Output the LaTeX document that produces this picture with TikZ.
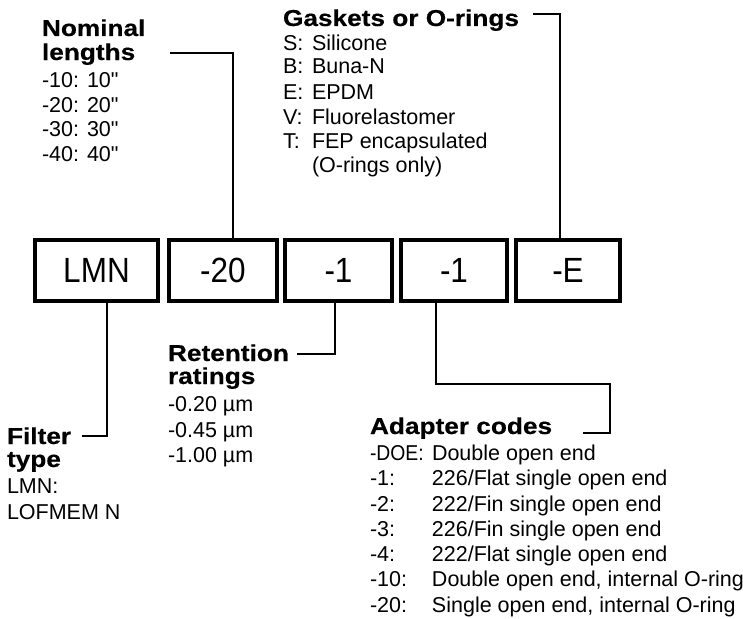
\documentclass[tikz,border=0pt]{standalone}
\usepackage{graphicx}
\usepackage{fontspec}
\setmainfont{Liberation Sans}
\newfontfamily\bdfont{Liberation Sans}
\newfontfamily\hdfont{Liberation Sans}[FakeStretch=1.14,FakeBold=0.4]
\newfontfamily\bxfont{Liberation Sans}[FakeStretch=0.9]
\begin{document}
\begin{tikzpicture}[x=1pt,y=-1pt,
  box/.style={draw=black,line width=4pt,inner sep=0pt,outer sep=0pt,minimum height=61pt,
    font=\bxfont\fontsize{35}{35}\selectfont},
  conn/.style={draw=black,line width=2pt},
  head/.style={anchor=base west,inner sep=0pt,outer sep=0pt,font=\hdfont\bfseries\fontsize{23}{23}\selectfont},
  body/.style={anchor=base west,inner sep=0pt,outer sep=0pt,font=\bdfont\fontsize{21.5}{25}\selectfont}]
\useasboundingbox (0,0) rectangle (743,618);
% boxes
\node[box,minimum width=123pt] (b1) at (96.5,270.5) {LMN};
\node[box,minimum width=108pt] (b2) at (223,270.5) {-20};
\node[box,minimum width=107pt] (b3) at (338.5,270.5) {-1};
\node[box,minimum width=106pt] (b4) at (454,270.5) {-1};
\node[box,minimum width=104pt] (b5) at (568,270.5) {-E};
% Nominal lengths
\node[head] (nh1) at (42,36) {Nominal};
\node[head] (nh2) at (42,60) {lengths};
\node[body] (n1) at (42,87) {-10: 10"};
\node[body] (n2) at (42,112) {-20: 20"};
\node[body] (n3) at (42,136) {-30: 30"};
\node[body] (n4) at (42,161) {-40: 40"};
% Gaskets
\node[head] (gh) at (283,26) {Gaskets or O-rings};
\node[body] (g1) at (283,50) {\makebox[29pt][l]{S:}Silicone};
\node[body] (g2) at (283,74) {\makebox[29pt][l]{B:}Buna-N};
\node[body] (g3) at (283,99) {\makebox[29pt][l]{E:}EPDM};
\node[body] (g4) at (283,124) {\makebox[29pt][l]{V:}Fluorelastomer};
\node[body] (g5) at (283,148) {\makebox[29pt][l]{T:}FEP encapsulated};
\node[body] (g6) at (312,172) {(O-rings only)};
% Retention
\node[head] (rh1) at (168,361) {Retention};
\node[head] (rh2) at (168,384) {ratings};
\node[body] (r1) at (168,411) {-0.20 µm};
\node[body] (r2) at (168,437) {-0.45 µm};
\node[body] (r3) at (168,462) {-1.00 µm};
% Filter type
\node[head] (fh1) at (7,444) {Filter};
\node[head] (fh2) at (7,467) {type};
\node[body] (f1) at (7,493) {LMN:};
\node[body] (f2) at (7,519) {LOFMEM N};
% Adapter codes
\node[head] (ah) at (370,434) {Adapter codes};
\node[body] (a1) at (370,460) {\makebox[62pt][l]{\scalebox{0.9}[1]{-DOE:}}Double open end};
\node[body] (a2) at (370,485) {\makebox[62pt][l]{-1:}226/Flat single open end};
\node[body] (a3) at (370,511) {\makebox[62pt][l]{-2:}222/Fin single open end};
\node[body] (a4) at (370,536) {\makebox[62pt][l]{-3:}226/Fin single open end};
\node[body] (a5) at (370,561) {\makebox[62pt][l]{-4:}222/Flat single open end};
\node[body] (a6) at (370,586) {\makebox[62pt][l]{-10:}Double open end, internal O-ring};
\node[body] (a7) at (370,612) {\makebox[62pt][l]{-20:}Single open end, internal O-ring};
% connectors
\coordinate (nomL) at (170,53);
\coordinate (gasL) at (533,14);
\coordinate (retL) at (297,354);
\coordinate (filL) at (82,436);
\coordinate (adaL) at (583,433);
\coordinate (adaK) at (610,384);
\draw[conn] (nomL) -| ([xshift=10pt]b2.north);
\draw[conn] (gasL) -| ([xshift=-8pt]b5.north);
\draw[conn] (retL) -| ([xshift=-4pt]b3.south);
\draw[conn] (filL) -| ([xshift=10.5pt]b1.south);
\draw[conn] (adaL) -| (adaK) -| ([xshift=-18pt]b4.south);
\end{tikzpicture}
\end{document}
